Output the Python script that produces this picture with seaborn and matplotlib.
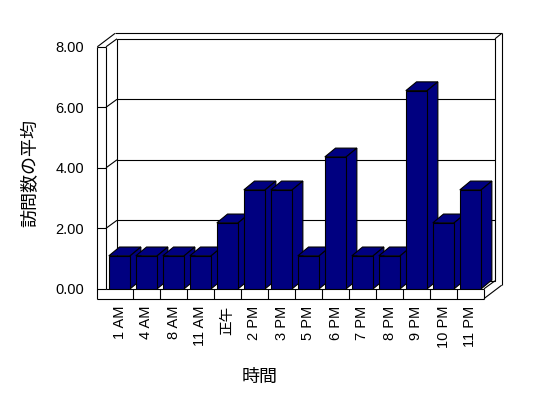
import matplotlib
matplotlib.use("Agg")
import numpy as np
import pandas as pd
import seaborn as sns
import matplotlib.pyplot as plt
from matplotlib.patches import Polygon
from matplotlib.lines import Line2D

# ---- data ----
hours = ["1 AM", "4 AM", "8 AM", "11 AM", "正午", "2 PM", "3 PM", "5 PM",
         "6 PM", "7 PM", "8 PM", "9 PM", "10 PM", "11 PM"]
visits = [1.09, 1.09, 1.09, 1.09, 2.18, 3.27, 3.27, 1.09,
          4.36, 1.09, 1.09, 6.55, 2.18, 3.27]
y_ticks = [0, 2, 4, 6, 8]
y_tick_labels = ["0.00", "2.00", "4.00", "6.00", "8.00"]
x_title = "時間"
y_title = "訪問数の平均"

sns.set_theme(style="white")
plt.rcParams["font.family"] = ["Liberation Sans", "Noto Sans CJK JP", "DejaVu Sans"]

W, H = 548, 398
fig = plt.figure(figsize=(W / 100, H / 100), dpi=100)
fig.patch.set_facecolor("white")
ax = fig.add_axes([106 / W, 1 - 288.8 / H, 378 / W, 242 / H])

df = pd.DataFrame({x_title: hours, y_title: visits})
sns.barplot(data=df, x=x_title, y=y_title, order=hours, color="#000080",
            saturation=1, width=0.79, edgecolor="black", linewidth=0.8, ax=ax)

ax.set_xlim(-0.5, len(hours) - 0.5)
ax.set_ylim(y_ticks[0], y_ticks[-1])
ax.patch.set_visible(False)
for s in ax.spines.values():
    s.set_visible(False)
ax.grid(False)

LC = "black"
LW = 0.8


def off(xd, yd, dpx=0.0, dpy=0.0):
    p = ax.transData.transform((xd, yd))
    return tuple(ax.transData.inverted().transform((p[0] + dpx, p[1] + dpy)))


def line(p, q, z=1.5):
    ax.add_line(Line2D([p[0], q[0]], [p[1], q[1]], color=LC, lw=LW,
                       zorder=z, clip_on=False, solid_capstyle="butt"))


L, R = ax.get_xlim()
B, T = ax.get_ylim()
D = (11.0, 8.0)          # depth to inner back wall (pixels)
DO = (17.7, 13.4)        # depth to outer back of back wall
TW = 8.7                 # left wall thickness
FH = 9.8                 # floor thickness

# back wall
ax.add_patch(Polygon([off(L, B, *D), off(R, B, *D), off(R, T, *D), off(L, T, *D)],
                     closed=True, facecolor="white", edgecolor=LC, lw=LW,
                     zorder=1, clip_on=False))
for v in y_ticks[1:-1]:
    line(off(L, v, *D), off(R, v, *D))
    line(off(L, v), off(L, v, *D))          # side-wall gridline
# left side wall
line(off(L, B), off(L, T))
line(off(L, T), off(L, T, *D))
# left front strip
line(off(L, T, -TW, 0), off(L, B, -TW, -FH))
for v in y_ticks:
    line(off(L, v, -TW, 0), off(L, v))
# left wall top to outer back
line(off(L, T, -TW, 0), off(L, T, -TW + DO[0], DO[1]))
# back wall top outer edge and right edges
line(off(L, T, -TW + DO[0], DO[1]), off(R, T, *DO))
line(off(R, T, *D), off(R, T, *DO))
line(off(R, T, *DO), off(R, B, DO[0], DO[1] - FH))
# floor
line(off(L, B), off(R, B), z=1.6)
line(off(L, B, -TW, -FH), off(R, B, 0, -FH), z=1.6)
line(off(R, B), off(R, B, 0, -FH), z=1.6)
for k in range(len(hours) - 1):
    xb = k + 0.5
    line(off(xb, B), off(xb, B, 0, -FH), z=1.6)
line(off(R, B), off(R, B, *D), z=1.6)
line(off(R, B, 0, -FH), off(R, B, DO[0], DO[1] - FH), z=1.6)

# 3D bar faces
BD = (10.7, 8.8)
bars = sorted(ax.patches[:len(hours)], key=lambda p: p.get_x())
for i, p in enumerate(bars):
    x0, w, h = p.get_x(), p.get_width(), p.get_height()
    p.set_zorder(4 + 2 * i + 1)
    p.set_linewidth(LW)
    top = [(x0, h), (x0 + w, h), off(x0 + w, h, *BD), off(x0, h, *BD)]
    side = [(x0 + w, 0), (x0 + w, h), off(x0 + w, h, *BD), off(x0 + w, 0, *BD)]
    for poly in (top, side):
        ax.add_patch(Polygon(poly, closed=True, facecolor="#000080",
                             edgecolor=LC, lw=LW, zorder=4 + 2 * i,
                             clip_on=False))

# ticks & labels
ax.set_yticks(y_ticks)
ax.set_yticklabels(y_tick_labels)
ax.set_xticks(range(len(hours)))
ax.set_xticklabels(hours, rotation=90)
ax.tick_params(axis="y", length=0, pad=15.8, labelsize=10.5, colors="black")
ax.tick_params(axis="x", length=0, pad=12.0, labelsize=10.5, colors="black")

ax.set_xlabel(x_title, fontsize=13, color="black")
ax.set_ylabel(y_title, fontsize=13, color="black")
ax.xaxis.set_label_coords((260 - 106) / 378, -(377.5 - 288.8) / 242)
ax.xaxis.label.set_va("center")
ax.yaxis.set_label_coords((30.8 - 106) / 378, (288.8 - 173.3) / 242)
ax.yaxis.label.set_va("center")

fig.savefig("out.png", dpi=100, facecolor="white")
